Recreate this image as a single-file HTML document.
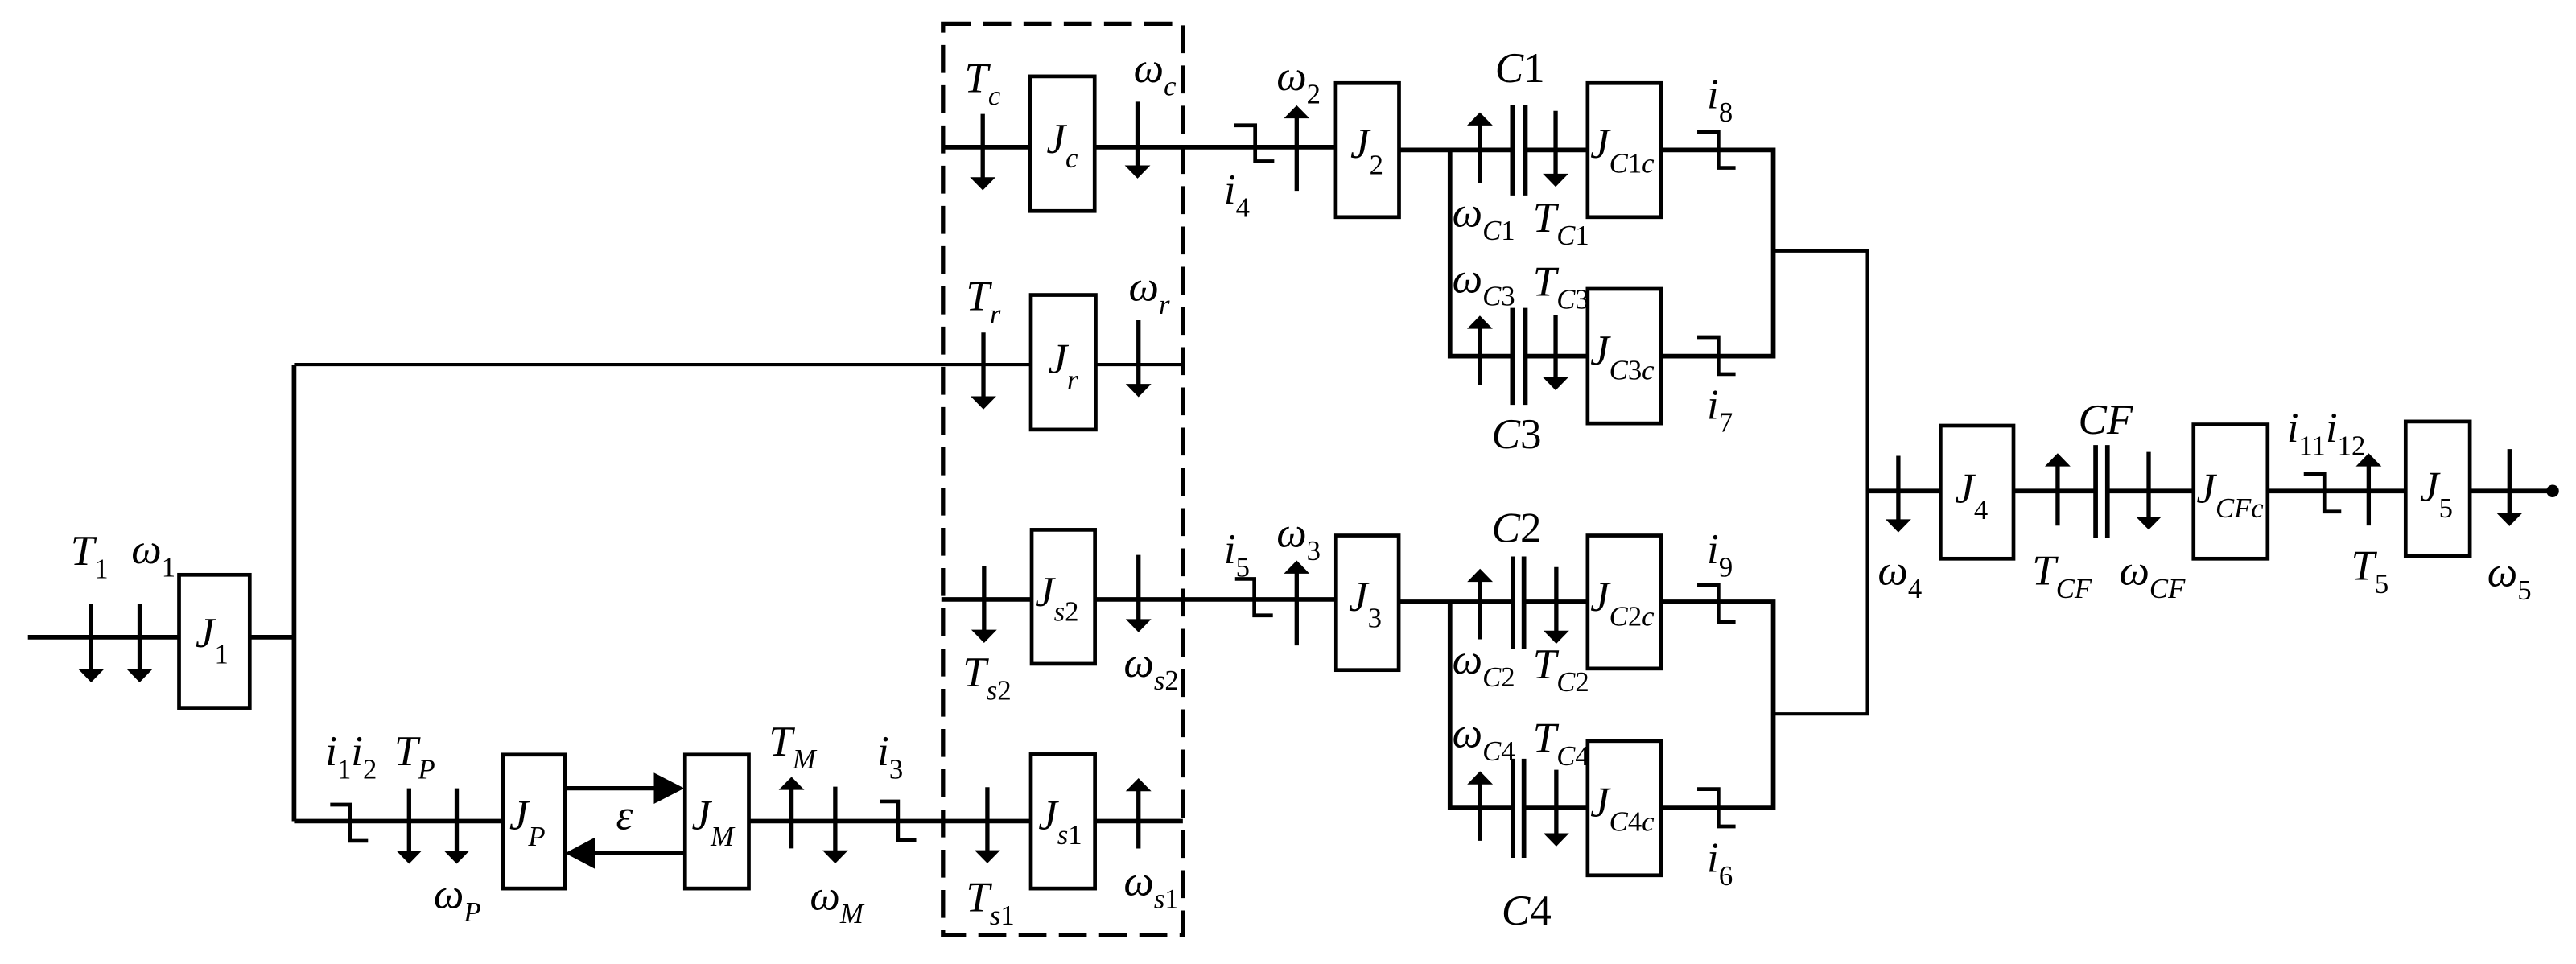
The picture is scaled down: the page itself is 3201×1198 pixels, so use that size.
<!DOCTYPE html>
<html><head><meta charset="utf-8"><style>
html,body{margin:0;padding:0;background:#fff;}
svg{display:block;}
text{font-family:"Liberation Serif","DejaVu Serif",serif;font-style:italic;font-size:26px;fill:#000;}
.s{font-size:17px;}
.u{font-style:normal;}
</style></head><body>
<svg width="3201" height="1198" viewBox="0 0 1568 587" preserveAspectRatio="none" xmlns="http://www.w3.org/2000/svg">
<rect x="0" y="0" width="1568" height="587" fill="#fff"/>
<g fill="none" stroke="#000" stroke-width="2.8" stroke-linejoin="miter">
<path d="M17 388 H109 M152 388 H179 M179 222 V500"/>
<path d="M179 500 H306 M456 500 H627.5 M666.5 500 H720"/>
<path d="M573 89.6 H627 M666 89.6 H813"/>
<path d="M851.6 91.3 H920.6 M928.5 91.3 H966.4 M1011 91.3 H1079.4 V216.9 H1011 M966.4 216.9 H928.5 M920.6 216.9 H882.6 V91.3"/>
<path d="M573 365 H628 M666.5 365 H813.3"/>
<path d="M851.4 366.5 H920.9 M927.6 366.5 H966.4 M1011 366.5 H1079.4 V492 H1011 M966.4 492 H927.6 M920.9 492 H882.6 V366.5"/>
<path d="M1136.7 299 H1181.2 M1225.6 299 H1275.6 M1282.8 299 H1335.2 M1380.3 299 H1464.3 M1503.4 299 H1553.8"/>
<path d="M920.6 63.7 V119 M928.5 63.7 V119 M920.6 187.5 V246.5 M928.5 187.5 V246.5 M920.9 338.8 V395 M927.6 338.8 V395 M920.9 462 V522.3 M927.6 462 V522.3 M1275.6 271 V327.4 M1282.8 271 V327.4"/>
</g>
<g fill="none" stroke="#000" stroke-width="2">
<path d="M179 222 H627.5 M667 222 H720"/>
<path d="M1079.4 152.8 H1136.7 V434.7 H1079.4"/>
</g>
<circle cx="1553.8" cy="299" r="3.8" fill="#000"/>
<g fill="#fff" stroke="#000" stroke-width="2.3">
<rect x="109" y="350" width="43" height="81"/>
<rect x="306" y="459.5" width="38" height="81.5"/>
<rect x="417" y="459.5" width="38.8" height="81.5"/>
<rect x="627" y="46.5" width="39.3" height="82"/>
<rect x="627.5" y="179.6" width="39.4" height="82"/>
<rect x="628" y="322.6" width="38.5" height="81.6"/>
<rect x="627.5" y="459.3" width="39" height="81.7"/>
<rect x="813.1" y="50.6" width="38.5" height="81.6"/>
<rect x="813.3" y="326.1" width="38.1" height="81.9"/>
<rect x="966.4" y="50.6" width="44.6" height="81.6"/>
<rect x="966.4" y="175.9" width="44.6" height="81.9"/>
<rect x="966.4" y="326.1" width="44.6" height="81"/>
<rect x="966.4" y="451.2" width="44.6" height="81.8"/>
<rect x="1181.2" y="259.2" width="44.4" height="81"/>
<rect x="1335.2" y="258.5" width="45.1" height="81.7"/>
<rect x="1464.3" y="256.7" width="39.1" height="81.8"/>
</g>
<rect x="574" y="14.4" width="146" height="555" fill="none" stroke="#000" stroke-width="2.6" stroke-dasharray="17 7.5"/>
<g fill="none" stroke="#000" stroke-width="2.3">
<path d="M201 490 H213 V512 H224"/>
<path d="M535.4 488 H546.6 V511.5 H557.7"/>
<path d="M751.2 76.3 H764 V98.2 H775.6"/>
<path d="M751.8 352.5 H763.5 V374.7 H774.8"/>
<path d="M1033.1 80.2 H1046 V102.2 H1056.4"/>
<path d="M1033.1 205.3 H1046 V227.8 H1056.4"/>
<path d="M1033.1 356.2 H1046 V378.6 H1056.4"/>
<path d="M1033.1 480.5 H1046 V503.2 H1056.4"/>
<path d="M1402.3 288.7 H1414.8 V311.5 H1425.1"/>
</g>
<g stroke="#000" stroke-width="2.6" fill="none">
<path d="M55.5 368 V409 M85 368 V409 M249 480 V519 M278 480 V519 M508.4 479 V519 M481.8 480 V516.6
M598.2 69.4 V109 M692.4 61.9 V102 M789.3 71 V116.2 M598.6 202.5 V243 M693 195 V235
M599 344.8 V385 M693 337.9 V378 M789.3 348 V393 M601 479.3 V519 M693 481 V516.7
M900.8 75 V111.5 M946.9 67.5 V107 M900.8 199 V234.3 M946.9 191.6 V231
M900.9 353 V389.3 M947.3 345.3 V385 M900.9 476 V512 M947.3 468.7 V509
M1155.5 277.6 V318 M1252.5 283 V320.1 M1307.9 275.2 V316 M1441.8 283 V320 M1527.5 273.5 V314
M344 480 H400 M417 519.5 H362"/>
</g>
<g fill="#000">
<polygon points="47.7,407.5 63.3,407.5 55.5,415.5"/>
<polygon points="77.2,407.5 92.8,407.5 85,415.5"/>
<polygon points="241.2,518 256.8,518 249,526"/>
<polygon points="270.2,518 285.8,518 278,526"/>
<polygon points="500.6,517.8 516.2,517.8 508.4,525.8"/>
<polygon points="474,481 489.6,481 481.8,473"/>
<polygon points="590.4,107.9 606,107.9 598.2,115.9"/>
<polygon points="684.6,100.7 700.2,100.7 692.4,108.7"/>
<polygon points="781.5,72.1 797.1,72.1 789.3,64.1"/>
<polygon points="590.8,241.3 606.4,241.3 598.6,249.3"/>
<polygon points="685.2,233.8 700.8,233.8 693,241.8"/>
<polygon points="591.2,383.5 606.8,383.5 599,391.5"/>
<polygon points="685.2,377 700.8,377 693,385"/>
<polygon points="781.5,349.3 797.1,349.3 789.3,341.3"/>
<polygon points="593.2,517.7 608.8,517.7 601,525.7"/>
<polygon points="685.2,481.8 700.8,481.8 693,473.8"/>
<polygon points="893,76.4 908.6,76.4 900.8,68.4"/>
<polygon points="939.1,105.8 954.7,105.8 946.9,113.8"/>
<polygon points="893,200.2 908.6,200.2 900.8,192.2"/>
<polygon points="939.1,229.7 954.7,229.7 946.9,237.7"/>
<polygon points="893.1,354.3 908.7,354.3 900.9,346.3"/>
<polygon points="939.5,384 955.1,384 947.3,392"/>
<polygon points="893.1,477.6 908.7,477.6 900.9,469.6"/>
<polygon points="939.5,507.4 955.1,507.4 947.3,515.4"/>
<polygon points="1147.7,316.2 1163.3,316.2 1155.5,324.2"/>
<polygon points="1244.7,284 1260.3,284 1252.5,276"/>
<polygon points="1300.1,314.6 1315.7,314.6 1307.9,322.6"/>
<polygon points="1434,284 1449.6,284 1441.8,276"/>
<polygon points="1519.7,312.4 1535.3,312.4 1527.5,320.4"/>
<polygon points="398,470.5 416.5,480 398,489.5"/>
<polygon points="362,510 344,519.5 362,529"/>
</g>
<text x="43" y="344">T<tspan class="s u" dy="8">1</tspan></text>
<text x="80" y="343">ω<tspan class="s u" dy="8">1</tspan></text>
<text x="119" y="394">J<tspan class="s u" dy="10">1</tspan></text>
<text x="198" y="466">i<tspan class="s u" dy="8">1</tspan><tspan dy="-8">i</tspan><tspan class="s u" dy="8">2</tspan></text>
<text x="240" y="466">T<tspan class="s" dy="8">P</tspan></text>
<text x="264" y="553">ω<tspan class="s" dy="8">P</tspan></text>
<text x="310" y="505">J<tspan class="s" dy="10">P</tspan></text>
<text x="375" y="505">ε</text>
<text x="421" y="505">J<tspan class="s" dy="10">M</tspan></text>
<text x="468" y="460">T<tspan class="s" dy="8">M</tspan></text>
<text x="534" y="466">i<tspan class="s u" dy="8">3</tspan></text>
<text x="493" y="554">ω<tspan class="s" dy="8">M</tspan></text>
<text x="587" y="56">T<tspan class="s" dy="8">c</tspan></text>
<text x="690" y="50">ω<tspan class="s" dy="8">c</tspan></text>
<text x="637" y="93">J<tspan class="s" dy="9">c</tspan></text>
<text x="777" y="55">ω<tspan class="s u" dy="8">2</tspan></text>
<text x="745" y="124">i<tspan class="s u" dy="8">4</tspan></text>
<text x="822" y="96">J<tspan class="s u" dy="10">2</tspan></text>
<text x="588" y="189">T<tspan class="s" dy="8">r</tspan></text>
<text x="687" y="183">ω<tspan class="s" dy="8">r</tspan></text>
<text x="638" y="227">J<tspan class="s" dy="10">r</tspan></text>
<text x="586" y="418">T<tspan class="s" dy="8">s</tspan><tspan class="s u">2</tspan></text>
<text x="684" y="412">ω<tspan class="s" dy="8">s</tspan><tspan class="s u">2</tspan></text>
<text x="630" y="369">J<tspan class="s" dy="9">s</tspan><tspan class="s u">2</tspan></text>
<text x="745" y="343">i<tspan class="s u" dy="8">5</tspan></text>
<text x="777" y="333">ω<tspan class="s u" dy="8">3</tspan></text>
<text x="821" y="372">J<tspan class="s u" dy="10">3</tspan></text>
<text x="588" y="555">T<tspan class="s" dy="8">s</tspan><tspan class="s u">1</tspan></text>
<text x="684" y="545">ω<tspan class="s" dy="8">s</tspan><tspan class="s u">1</tspan></text>
<text x="632" y="505">J<tspan class="s" dy="9">s</tspan><tspan class="s u">1</tspan></text>
<text x="910" y="50">C<tspan class="u">1</tspan></text>
<text x="884" y="138">ω<tspan class="s" dy="8">C</tspan><tspan class="s u">1</tspan></text>
<text x="933" y="141">T<tspan class="s" dy="8">C</tspan><tspan class="s u">1</tspan></text>
<text x="968" y="96">J<tspan class="s" dy="9">C</tspan><tspan class="s u">1</tspan><tspan class="s">c</tspan></text>
<text x="1039" y="66">i<tspan class="s u" dy="8">8</tspan></text>
<text x="884" y="178">ω<tspan class="s" dy="8">C</tspan><tspan class="s u">3</tspan></text>
<text x="933" y="180">T<tspan class="s" dy="8">C</tspan><tspan class="s u">3</tspan></text>
<text x="968" y="222">J<tspan class="s" dy="9">C</tspan><tspan class="s u">3</tspan><tspan class="s">c</tspan></text>
<text x="1039" y="255">i<tspan class="s u" dy="8">7</tspan></text>
<text x="908" y="273">C<tspan class="u">3</tspan></text>
<text x="908" y="330">C<tspan class="u">2</tspan></text>
<text x="884" y="410">ω<tspan class="s" dy="8">C</tspan><tspan class="s u">2</tspan></text>
<text x="933" y="413">T<tspan class="s" dy="8">C</tspan><tspan class="s u">2</tspan></text>
<text x="968" y="372">J<tspan class="s" dy="9">C</tspan><tspan class="s u">2</tspan><tspan class="s">c</tspan></text>
<text x="1039" y="343">i<tspan class="s u" dy="8">9</tspan></text>
<text x="884" y="455">ω<tspan class="s" dy="8">C</tspan><tspan class="s u">4</tspan></text>
<text x="933" y="458">T<tspan class="s" dy="8">C</tspan><tspan class="s u">4</tspan></text>
<text x="968" y="497">J<tspan class="s" dy="9">C</tspan><tspan class="s u">4</tspan><tspan class="s">c</tspan></text>
<text x="1039" y="531">i<tspan class="s u" dy="8">6</tspan></text>
<text x="914" y="563">C<tspan class="u">4</tspan></text>
<text x="1143" y="356">ω<tspan class="s u" dy="8">4</tspan></text>
<text x="1190" y="306">J<tspan class="s u" dy="10">4</tspan></text>
<text x="1237" y="356">T<tspan class="s" dy="8">CF</tspan></text>
<text x="1290" y="356">ω<tspan class="s" dy="8">CF</tspan></text>
<text x="1265" y="264">CF</text>
<text x="1337" y="306">J<tspan class="s" dy="9">CFc</tspan></text>
<text x="1392" y="269">i<tspan class="s u" dy="8">11</tspan><tspan dy="-8">i</tspan><tspan class="s u" dy="8">12</tspan></text>
<text x="1431" y="353">T<tspan class="s u" dy="8">5</tspan></text>
<text x="1473" y="305">J<tspan class="s u" dy="10">5</tspan></text>
<text x="1514" y="357">ω<tspan class="s u" dy="8">5</tspan></text>
</svg>
</body></html>
